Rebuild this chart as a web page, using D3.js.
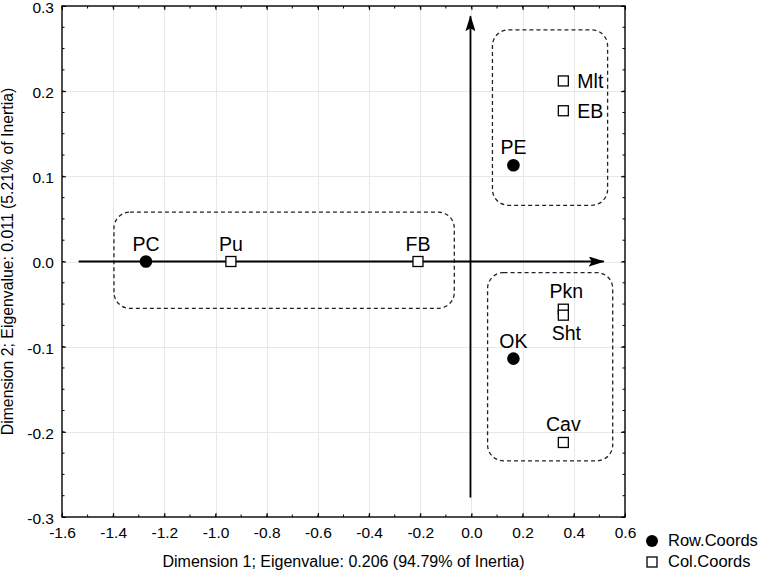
<!DOCTYPE html>
<html>
<head>
<meta charset="utf-8">
<script src="https://cdn.jsdelivr.net/npm/d3@7"></script>
<style>
  html, body { margin: 0; padding: 0; background: #fff; }
  svg { display: block; font-family: Arial, "Liberation Sans", sans-serif; }
</style>
</head>
<body>
<svg id="chart" width="762" height="572"></svg>
<script>
// ---------- data ----------
const rowLabels = ["PC", "PE", "OK"];
const rowX = [-1.272, 0.164, 0.164];
const rowY = [0.000, 0.113, -0.114];

const colLabels = ["Pu", "FB", "Mlt", "EB", "Pkn", "Sht", "Cav"];
const colX = [-0.940, -0.209, 0.359, 0.359, 0.359, 0.359, 0.359];
const colY = [0.000, 0.000, 0.212, 0.177, -0.056, -0.063, -0.2125];

const xTicks = [-1.6, -1.4, -1.2, -1.0, -0.8, -0.6, -0.4, -0.2, 0.0, 0.2, 0.4, 0.6];
const xTickLabels = ["-1.6", "-1.4", "-1.2", "-1.0", "-0.8", "-0.6", "-0.4", "-0.2", "0.0", "0.2", "0.4", "0.6"];
const yTicks = [-0.3, -0.2, -0.1, 0.0, 0.1, 0.2, 0.3];
const yTickLabels = ["-0.3", "-0.2", "-0.1", "0.0", "0.1", "0.2", "0.3"];

// group boxes in data units: [x0, x1, y0, y1]
const groupBoxes = [
  [-1.397, -0.067, -0.055, 0.058],
  [0.082, 0.532, 0.066, 0.272],
  [0.063, 0.552, -0.234, -0.013]
];
// axis arrows in data units
const hArrow = [-1.535, 0.517];
const vArrow = [-0.277, 0.288];

const xTitle = "Dimension 1; Eigenvalue: 0.206 (94.79% of Inertia)";
const yTitle = "Dimension 2; Eigenvalue: 0.011 (5.21% of Inertia)";
const legendLabels = ["Row.Coords", "Col.Coords"];

// ---------- layout ----------
const L = 62, R = 625, T = 6, B = 517;
const svg = d3.select("#chart");
const x = d3.scaleLinear().domain([-1.6, 0.6]).range([L, R]);
const y = d3.scaleLinear().domain([-0.3, 0.3]).range([B, T]);

// grid
const grid = svg.append("g").attr("stroke", "#e8e8e8").attr("stroke-width", 1);
grid.selectAll(".gx").data(xTicks.slice(1, -1)).join("line")
  .attr("x1", d => Math.round(x(d)) + 0.5).attr("x2", d => Math.round(x(d)) + 0.5)
  .attr("y1", T).attr("y2", B);
grid.selectAll(".gy").data(yTicks.slice(1, -1)).join("line")
  .attr("y1", d => Math.round(y(d)) + 0.5).attr("y2", d => Math.round(y(d)) + 0.5)
  .attr("x1", L).attr("x2", R);

// minor ticks
const xMinor = d3.range(-16, 7).map(i => i / 10);
const yMinor = d3.range(-12, 13).map(i => i * 0.025);

function styleAxis(g) {
  g.select(".domain").remove();
  g.selectAll("line").attr("stroke", "#000").attr("stroke-width", 1);
  g.selectAll("text").attr("fill", "#000").attr("font-size", "15.5px");
}

// major axes
svg.append("g").attr("transform", `translate(0,${B})`)
  .call(d3.axisBottom(x).tickValues(xTicks).tickSize(-4).tickPadding(10)
    .tickFormat((d, i) => xTickLabels[i]))
  .call(styleAxis);
svg.append("g").attr("transform", `translate(${L},0)`)
  .call(d3.axisLeft(y).tickValues(yTicks).tickSize(-4).tickPadding(8)
    .tickFormat((d, i) => yTickLabels[i]))
  .call(styleAxis)
  .call(g => g.selectAll("text").attr("dy", "0.41em"));
svg.append("g").attr("transform", `translate(0,${T})`)
  .call(d3.axisTop(x).tickValues(xTicks).tickSize(-4).tickFormat(""))
  .call(styleAxis);
svg.append("g").attr("transform", `translate(${R},0)`)
  .call(d3.axisRight(y).tickValues(yTicks).tickSize(-4).tickFormat(""))
  .call(styleAxis);
// minor ticks on all sides
[[B, -2.5], [T, 2.5]].forEach(([yy, len]) => {
  svg.append("g").selectAll("line").data(xMinor).join("line")
    .attr("x1", d => x(d)).attr("x2", d => x(d))
    .attr("y1", yy).attr("y2", yy + len).attr("stroke", "#000");
});
[[L, 2.5], [R, -2.5]].forEach(([xx, len]) => {
  svg.append("g").selectAll("line").data(yMinor).join("line")
    .attr("y1", d => y(d)).attr("y2", d => y(d))
    .attr("x1", xx).attr("x2", xx + len).attr("stroke", "#000");
});

// frame
svg.append("rect").attr("x", L).attr("y", T).attr("width", R - L).attr("height", B - T)
  .attr("fill", "none").attr("stroke", "#000").attr("stroke-width", 1.4);

// group boxes
svg.append("g").selectAll("rect").data(groupBoxes).join("rect")
  .attr("x", d => x(d[0])).attr("width", d => x(d[1]) - x(d[0]))
  .attr("y", d => y(d[3])).attr("height", d => y(d[2]) - y(d[3]))
  .attr("rx", 16).attr("ry", 16)
  .attr("fill", "none").attr("stroke", "#222").attr("stroke-width", 1.3)
  .attr("stroke-dasharray", "4,3");

// arrows
const defs = svg.append("defs");
defs.append("marker").attr("id", "arrow").attr("viewBox", "0 0 16 10")
  .attr("refX", 15).attr("refY", 5).attr("markerWidth", 16).attr("markerHeight", 10)
  .attr("markerUnits", "userSpaceOnUse").attr("orient", "auto")
  .append("path").attr("d", "M0,0 L16,5 L0,10 L3,5 Z").attr("fill", "#000");
svg.append("line").attr("x1", x(hArrow[0])).attr("x2", x(hArrow[1]))
  .attr("y1", y(0)).attr("y2", y(0))
  .attr("stroke", "#000").attr("stroke-width", 1.8).attr("marker-end", "url(#arrow)");
svg.append("line").attr("x1", x(0) - 1).attr("x2", x(0) - 1)
  .attr("y1", y(vArrow[0])).attr("y2", y(vArrow[1]))
  .attr("stroke", "#000").attr("stroke-width", 1.8).attr("marker-end", "url(#arrow)");

// points
const rows = rowLabels.map((l, i) => ({ l, x: rowX[i], y: rowY[i] }));
const cols = colLabels.map((l, i) => ({ l, x: colX[i], y: colY[i] }));

svg.append("g").selectAll("circle").data(rows).join("circle")
  .attr("cx", d => x(d.x)).attr("cy", d => y(d.y)).attr("r", 6.3).attr("fill", "#000");
svg.append("g").selectAll("rect").data(cols).join("rect")
  .attr("x", d => x(d.x) - 5).attr("y", d => y(d.y) - 5)
  .attr("width", 10).attr("height", 10)
  .attr("fill", "#fff").attr("stroke", "#000").attr("stroke-width", 1.3);

// labels
const labelPos = {
  PC: "above", PE: "above", OK: "above", Pu: "above", FB: "above",
  Mlt: "right", EB: "right", Pkn: "above", Sht: "below", Cav: "above"
};
const labelShift = { Pkn: 3, Sht: 3 };
const all = rows.concat(cols);
svg.append("g").selectAll("text").data(all).join("text")
  .attr("font-size", "19.5px").attr("fill", "#000")
  .attr("x", d => labelPos[d.l] === "right" ? x(d.x) + 14 : x(d.x) + (labelShift[d.l] || 0))
  .attr("y", d => {
    const p = labelPos[d.l];
    if (p === "right") return y(d.y) + 7;
    if (p === "below") return y(d.y) + 25;
    return y(d.y) - 11;
  })
  .attr("text-anchor", d => labelPos[d.l] === "right" ? "start" : "middle")
  .text(d => d.l);

// axis titles
svg.append("text").attr("x", (L + R) / 2).attr("y", 567).attr("text-anchor", "middle")
  .attr("font-size", "16px").attr("fill", "#000").text(xTitle);
svg.append("text").attr("transform", `translate(13,${(T + B) / 2}) rotate(-90)`)
  .attr("text-anchor", "middle").attr("font-size", "15.8px").attr("fill", "#000").text(yTitle);

// legend
const lg = svg.append("g");
lg.append("circle").attr("cx", 652).attr("cy", 541).attr("r", 6).attr("fill", "#000");
lg.append("rect").attr("x", 647).attr("y", 557).attr("width", 10).attr("height", 10)
  .attr("fill", "#fff").attr("stroke", "#000").attr("stroke-width", 1.3);
lg.selectAll("text").data(legendLabels).join("text")
  .attr("x", 668).attr("y", (d, i) => 546 + i * 21)
  .attr("font-size", "16.5px").attr("fill", "#000").text(d => d);
</script>
</body>
</html>
